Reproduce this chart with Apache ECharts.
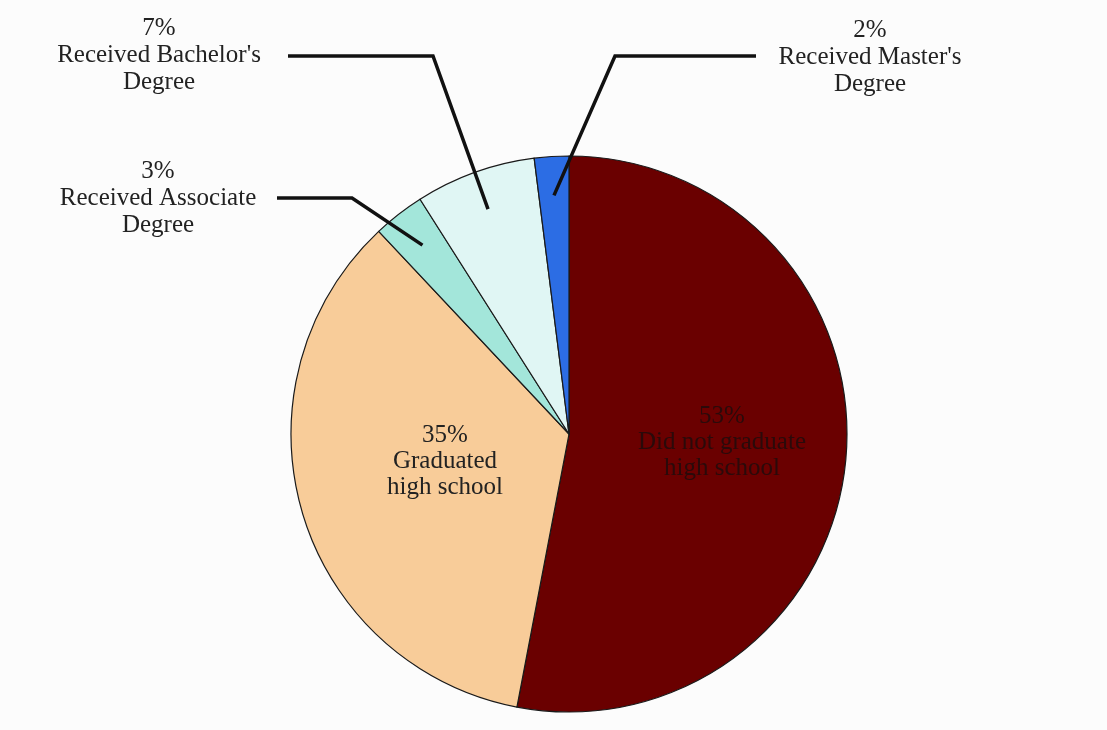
<!DOCTYPE html>
<html>
<head>
<meta charset="utf-8">
<script src="https://cdn.jsdelivr.net/npm/echarts@6/dist/echarts.min.js"></script>
<style>
  html, body { margin: 0; padding: 0; background: #fcfcfc; }
  #chart { width: 1107px; height: 730px; }
</style>
</head>
<body>
<div id="chart"></div>
<script>
// ---- data ----
const categories = [
  "Did not graduate high school",
  "Graduated high school",
  "Received Associate Degree",
  "Received Bachelor's Degree",
  "Received Master's Degree"
];
const values = [53, 35, 3, 7, 2];
const labelTexts = [
  "53%\nDid not graduate\nhigh school",
  "35%\nGraduated\nhigh school",
  "3%\nReceived Associate\nDegree",
  "7%\nReceived Bachelor's\nDegree",
  "2%\nReceived Master's\nDegree"
];
const colors = ["#6a0000", "#f8cc99", "#a3e6da", "#e0f6f4", "#2c6de4"];
const textColors = ["#2a0a0a", "#222222", "#222222", "#222222", "#222222"];

// ---- layout (styling) ----
const CX = 569, CY = 434, R = 278;
const inside = [true, true, false, false, false];
// label centre positions and leader-line elbow / end points
const labelPos = [
  [722, 442], [445, 461], [158, 198], [159, 55], [870, 57]
];
const elbows = [null, null, [[352, 198], [277, 198]], [[433, 56], [288, 56]], [[615, 56], [756, 56]]];

const total = values.reduce((a, b) => a + b, 0);
function midAngle(i) {
  let cum = 0;
  for (let k = 0; k < i; k++) cum += values[k];
  return (cum + values[i] / 2) / total * Math.PI * 2;
}

const chart = echarts.init(document.getElementById('chart'), null, { renderer: 'canvas' });
const fontFamily = "'Liberation Serif', 'Times New Roman', serif";

const data = categories.map((name, i) => ({
  name: name,
  value: values[i],
  itemStyle: { color: colors[i] },
  label: {
    show: true,
    position: inside[i] ? 'inside' : 'outside',
    formatter: labelTexts[i],
    color: textColors[i],
    fontSize: 25,
    lineHeight: inside[i] ? 26 : 27,
    fontFamily: fontFamily,
    align: 'center'
  },
  labelLine: { show: false }
}));

// leader lines: start inside each small slice along its mid-angle (derived from the data)
const leaderGraphics = [];
values.forEach((v, i) => {
  if (!elbows[i]) return;
  const a = midAngle(i);
  const k = 0.86;
  const p0 = [CX + k * R * Math.sin(a), CY - k * R * Math.cos(a)];
  leaderGraphics.push({
    type: 'polyline',
    z: 100,
    silent: true,
    shape: { points: [p0, elbows[i][0], elbows[i][1]] },
    style: { stroke: '#111', lineWidth: 3.5, fill: null, lineJoin: 'miter' }
  });
});

chart.setOption({
  backgroundColor: '#fcfcfc',
  animation: false,
  graphic: leaderGraphics,
  series: [{
    type: 'pie',
    center: [CX, CY],
    radius: R,
    startAngle: 90,
    clockwise: true,
    avoidLabelOverlap: false,
    silent: true,
    itemStyle: { borderColor: '#1a1a1a', borderWidth: 1.2 },
    data: data,
    labelLayout: function (params) {
      const i = params.dataIndex;
      return {
        x: labelPos[i][0],
        y: labelPos[i][1],
        align: 'center',
        verticalAlign: 'middle'
      };
    }
  }]
});
</script>
</body>
</html>
